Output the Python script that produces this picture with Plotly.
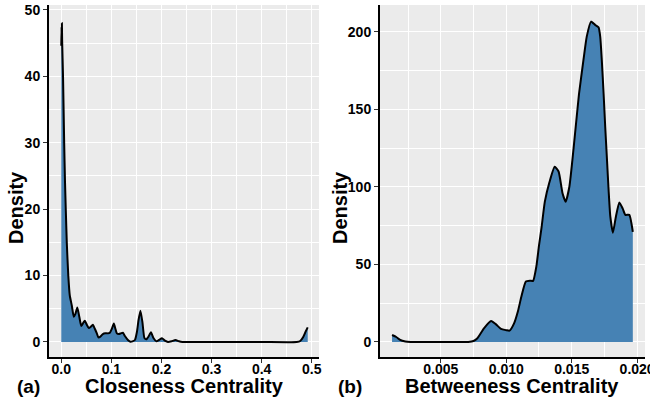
import plotly.graph_objects as go

# ---- data ----
close_x = [0.0, 0.0006, 0.0009, 0.0013, 0.0017, 0.0035, 0.0058, 0.0075, 0.009, 0.011,
           0.014, 0.017, 0.021, 0.025, 0.028, 0.032, 0.036, 0.040, 0.044, 0.047,
           0.051, 0.055, 0.059, 0.063, 0.067, 0.071, 0.074, 0.078, 0.083, 0.088,
           0.093, 0.097, 0.101, 0.105, 0.108, 0.111, 0.115, 0.119, 0.123, 0.127,
           0.133, 0.138, 0.142, 0.147, 0.151, 0.154, 0.158, 0.162, 0.166, 0.170,
           0.174, 0.179, 0.184, 0.190, 0.195, 0.201, 0.207, 0.213, 0.220, 0.228,
           0.235, 0.242, 0.30, 0.40, 0.470, 0.477, 0.483, 0.488, 0.492]
close_y = [44.6, 47.5, 45.0, 48.0, 45.5, 40.0, 30.0, 24.0, 20.0, 15.0,
           10.0, 7.0, 5.5, 3.8, 4.2, 5.2, 3.8, 2.4, 2.9, 3.2,
           2.6, 2.1, 2.3, 2.6, 2.0, 1.3, 0.7, 0.8, 1.2, 1.3,
           1.3, 1.4, 2.0, 2.8, 2.0, 1.3, 1.2, 1.3, 1.4, 0.9,
           0.3, 0.05, 0.1, 0.3, 1.5, 3.2, 4.7, 3.0, 0.6, 0.4,
           0.8, 1.45, 0.6, 0.1, 0.3, 0.55, 0.2, 0.0, 0.1, 0.3,
           0.1, 0.0, 0.0, 0.0, 0.0, 0.15, 0.75, 1.6, 2.2]

betw_x = [0.00128, 0.0016, 0.0019, 0.0023, 0.0027, 0.004, 0.006, 0.0071, 0.0075, 0.0078,
          0.0083, 0.00885, 0.0092, 0.0096, 0.0100, 0.01025, 0.0106, 0.0109, 0.01115, 0.0115,
          0.0118, 0.01205, 0.0123, 0.0125, 0.0127, 0.01295, 0.0133, 0.0137, 0.0140, 0.0143,
          0.01454, 0.01482, 0.01505, 0.01531, 0.01556, 0.0159, 0.01615, 0.01648, 0.0168, 0.01705,
          0.01718, 0.0173, 0.01744, 0.01756, 0.0177, 0.01782, 0.01795, 0.01815, 0.01838, 0.01864,
          0.0189, 0.0191, 0.0194, 0.01967]
betw_y = [4.5, 3.2, 1.3, 0.3, 0.0, 0.0, 0.0, 0.0, 0.6, 2.4,
          8.8, 13.5, 11.5, 8.4, 7.6, 7.3, 12.0, 20.0, 29.0, 39.0,
          39.5, 39.4, 48.6, 62.0, 74.0, 90.5, 103.0, 113.0, 110.0, 96.0,
          90.5, 100.0, 117.0, 139.0, 160.0, 182.0, 197.0, 206.7, 204.5, 203.0,
          197.0, 182.0, 160.0, 139.0, 117.0, 98.0, 81.0, 70.5, 81.0, 90.0,
          86.0, 82.0, 82.0, 71.0]

close_xticks = [0.0, 0.1, 0.2, 0.3, 0.4, 0.5]
close_xtick_labels = ["0.0", "0.1", "0.2", "0.3", "0.4", "0.5"]
close_yticks = [0, 10, 20, 30, 40, 50]
betw_xticks = [0.005, 0.010, 0.015, 0.020]
betw_xtick_labels = ["0.005", "0.010", "0.015", "0.020"]
betw_yticks = [0, 50, 100, 150, 200]

W, H = 650, 403
FILL = "#4682B4"
FONT = "Liberation Sans, Arial, sans-serif"

fig = go.Figure()
fig.add_trace(go.Scatter(x=close_x, y=close_y, mode="lines", fill="tozeroy",
                         fillcolor=FILL, line=dict(color="black", width=2, shape="spline", smoothing=0.5),
                         xaxis="x", yaxis="y", showlegend=False, hoverinfo="skip"))
fig.add_trace(go.Scatter(x=betw_x, y=betw_y, mode="lines", fill="tozeroy",
                         fillcolor=FILL, line=dict(color="black", width=2, shape="spline", smoothing=0.5),
                         xaxis="x2", yaxis="y2", showlegend=False, hoverinfo="skip"))

def ax(domain, rng, tickvals, ticktext=None, anchor=None, dtick_minor=None, standoff=0):
    d = dict(domain=domain, range=rng, tickvals=tickvals, showgrid=True, gridcolor="white",
             gridwidth=1.2, zeroline=False, showline=True, linecolor="black", linewidth=2,
             ticks="outside", ticklen=4, tickwidth=1.3, tickcolor="#333333",
             tickfont=dict(family=FONT, size=14, color="black", weight="bold"),
             minor=dict(showgrid=True, gridcolor="white", gridwidth=0.5, dtick=dtick_minor,
                        ticks=""),
             ticklabeloverflow="allow", ticklabelstandoff=standoff, automargin=False,
             anchor=anchor, fixedrange=True)
    if ticktext is not None:
        d["ticktext"] = ticktext
    return d

ya_dom = [1 - 357 / H, 1 - 5 / H]
fig.update_layout(
    width=W, height=H, margin=dict(l=0, r=0, t=0, b=0, autoexpand=False),
    paper_bgcolor="white", plot_bgcolor="#EBEBEB",
    xaxis=ax([49 / W, 319 / W], [-0.0245, 0.5145], close_xticks, close_xtick_labels, "y", 0.05, -6),
    yaxis=ax(ya_dom, [-2.26, 50.75], close_yticks, None, "x", 5),
    xaxis2=ax([380 / W, 645 / W], [0.00036, 0.0206], betw_xticks, betw_xtick_labels, "y2", 0.0025, -6),
    yaxis2=ax(ya_dom, [-9.7, 217.4], betw_yticks, None, "x2", 25),
)

def ann(text, x, y, size=20, angle=0):
    fig.add_annotation(text=text, x=x / W, y=1 - y / H, xref="paper", yref="paper",
                       showarrow=False, textangle=angle, xanchor="center", yanchor="middle",
                       font=dict(family=FONT, size=size, color="black", weight="bold"))

ann("Closeness Centrality", 184, 386)
ann("Betweeness Centrality", 512, 386)
ann("Density", 16, 208, angle=-90)
ann("Density", 340, 208, angle=-90)
ann("(a)", 28, 386, size=19)
ann("(b)", 350, 386, size=19)

post = (
    "document.documentElement.style.overflow='hidden';"
    "document.body.style.margin='0';document.body.style.overflow='hidden';"
)
fig.write_html("out.html", config={"displayModeBar": False}, post_script=post)
